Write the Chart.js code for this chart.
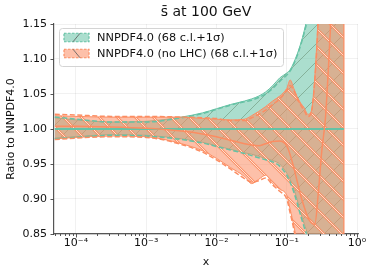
<!DOCTYPE html>
<html>
<head>
<meta charset="utf-8">
<script src="https://cdn.jsdelivr.net/npm/chart.js@4.4.1/dist/chart.umd.min.js"></script>
<style>
  html, body { margin: 0; padding: 0; background: #fff; }
  #chart { display: block; }
</style>
</head>
<body>
<canvas id="chart" width="374" height="275"></canvas>
<script>
// x grid (momentum fraction) shared by every curve
var xs = [5e-5, 1e-4, 3.16e-4, 1e-3, 3.16e-3, 6.3e-3, 0.01, 0.0158, 0.0251, 0.0316,
          0.0398, 0.0501, 0.0631, 0.0794, 0.1, 0.112, 0.126, 0.141, 0.158, 0.178,
          0.2, 0.224, 0.251, 0.282, 0.316, 0.355, 0.398, 0.5, 0.65];

// NNPDF4.0 (reference) - 68 c.l. band and 1 sigma lines
var nnpdfUp68 = [1.016, 1.013, 1.010, 1.011, 1.017, 1.023, 1.029, 1.035, 1.040, 1.043,
                 1.047, 1.053, 1.062, 1.073, 1.080, 1.085, 1.095, 1.107, 1.122, 1.141,
                 1.165, 1.20, 1.26, 1.33, 1.42, 1.5, 1.6, 1.8, 2.0];
var nnpdfLo68 = [0.987, 0.989, 0.992, 0.991, 0.986, 0.981, 0.976, 0.971, 0.966, 0.964,
                 0.961, 0.958, 0.955, 0.950, 0.937, 0.928, 0.914, 0.899, 0.880, 0.864,
                 0.848, 0.82, 0.78, 0.72, 0.65, 0.6, 0.55, 0.45, 0.3];
var nnpdfUp1s = [1.017, 1.014, 1.010, 1.010, 1.016, 1.022, 1.028, 1.034, 1.039, 1.041,
                 1.045, 1.050, 1.058, 1.068, 1.077, 1.083, 1.093, 1.105, 1.120, 1.138,
                 1.16, 1.19, 1.25, 1.32, 1.40, 1.5, 1.6, 1.8, 2.0];
var nnpdfLo1s = [0.986, 0.988, 0.991, 0.990, 0.985, 0.980, 0.975, 0.970, 0.965, 0.962,
                 0.959, 0.956, 0.953, 0.947, 0.934, 0.924, 0.910, 0.894, 0.876, 0.859,
                 0.843, 0.815, 0.77, 0.70, 0.64, 0.58, 0.54, 0.44, 0.3];
var nnpdfCentral = [1, 1, 1, 1, 1, 1, 1, 1, 1, 1, 1, 1, 1, 1, 1, 1, 1, 1, 1, 1,
                    1, 1, 1, 1, 1, 1, 1, 1, 1];

// NNPDF4.0 (no LHC)
var noLhcUp68 = [1.019, 1.018, 1.017, 1.017, 1.017, 1.015, 1.014, 1.013, 1.014, 1.019,
                 1.025, 1.032, 1.040, 1.047, 1.058, 1.070, 1.058, 1.046, 1.037, 1.030,
                 1.021, 1.026, 1.075, 1.17, 1.3, 1.4, 1.5, 1.7, 2.0];
var noLhcLo68 = [0.986, 0.988, 0.990, 0.989, 0.979, 0.969, 0.958, 0.945, 0.932, 0.922,
                 0.928, 0.934, 0.922, 0.914, 0.905, 0.885, 0.862, 0.835, 0.80, 0.76,
                 0.72, 0.68, 0.64, 0.6, 0.55, 0.5, 0.45, 0.4, 0.3];
var noLhcUp1s = [1.021, 1.020, 1.018, 1.018, 1.017, 1.016, 1.015, 1.012, 1.012, 1.016,
                 1.021, 1.027, 1.035, 1.043, 1.055, 1.062, 1.055, 1.044, 1.034, 1.026,
                 1.018, 1.024, 1.07, 1.16, 1.3, 1.4, 1.5, 1.7, 2.0];
var noLhcLo1s = [0.985, 0.987, 0.989, 0.988, 0.978, 0.967, 0.956, 0.943, 0.929, 0.924,
                 0.926, 0.930, 0.920, 0.911, 0.900, 0.880, 0.857, 0.830, 0.795, 0.755,
                 0.715, 0.675, 0.635, 0.6, 0.55, 0.5, 0.45, 0.4, 0.3];
var noLhcCentral = [1.004, 1.004, 1.003, 1.001, 0.997, 0.993, 0.989, 0.984, 0.979, 0.977,
                    0.976, 0.979, 0.982, 0.983, 0.976, 0.963, 0.945, 0.925, 0.905, 0.888,
                    0.874, 0.866, 0.864, 0.91, 0.97, 1.015, 1.10, 1.3, 1.5];

var bandEndX = 0.65;

// axis ticks
var xTicks = [1e-4, 1e-3, 1e-2, 1e-1, 1];
var yTicks = [0.85, 0.90, 0.95, 1.00, 1.05, 1.10, 1.15];

var labels = ['NNPDF4.0 (68 c.l.+1\u03c3)', 'NNPDF4.0 (no LHC) (68 c.l.+1\u03c3)'];

var GREEN = '#66c2a5';
var ORANGE = '#fc8d62';
var GREEN_FILL = 'rgba(102,194,165,0.55)';
var ORANGE_FILL = 'rgba(252,141,98,0.55)';
var FONT = "'DejaVu Sans', sans-serif";

// hatch pattern: fill colour plus diagonal lines (optionally with an outline stroke)
function makeHatch(fill, strokes, dir) {
    var s = 18;
    var c = document.createElement('canvas');
    c.width = s; c.height = s;
    var g = c.getContext('2d');
    g.fillStyle = fill;
    g.fillRect(0, 0, s, s);
    strokes.forEach(function (st) {
        g.strokeStyle = st.color;
        g.lineWidth = st.width;
        g.beginPath();
        if (dir === '/') {
            g.moveTo(-2, s + 2); g.lineTo(s + 2, -2);
            g.moveTo(-2, 2); g.lineTo(2, -2);
            g.moveTo(s - 2, s + 2); g.lineTo(s + 2, s - 2);
        } else {
            g.moveTo(-2, -2); g.lineTo(s + 2, s + 2);
            g.moveTo(-2, s - 2); g.lineTo(2, s + 2);
            g.moveTo(s - 2, -2); g.lineTo(s + 2, 2);
        }
        g.stroke();
    });
    return document.getElementById('chart').getContext('2d').createPattern(c, 'repeat');
}

function pts(arr) {
    return xs.map(function (x, i) { return { x: x, y: arr[i] }; });
}

function sup(n) {
    var map = { '-': '\u207b', '0': '\u2070', '1': '\u00b9', '2': '\u00b2', '3': '\u00b3',
                '4': '\u2074', '5': '\u2075', '6': '\u2076', '7': '\u2077', '8': '\u2078', '9': '\u2079' };
    return String(n).split('').map(function (ch) { return map[ch]; }).join('');
}

var greenHatch = makeHatch(GREEN_FILL, [{ color: 'rgba(100,140,110,0.6)', width: 0.9 }], '/');
var orangeHatch = makeHatch(ORANGE_FILL, [
    { color: 'rgba(252,141,98,0.9)', width: 2.4 },
    { color: 'rgba(255,236,226,0.95)', width: 0.9 }
], '\\');

function lineDs(data, color, width, dash, extra) {
    var ds = {
        data: data,
        borderColor: color,
        borderWidth: width,
        borderDash: dash || [],
        pointRadius: 0,
        fill: false,
        cubicInterpolationMode: 'monotone'
    };
    for (var k in extra) ds[k] = extra[k];
    return ds;
}

var DASH = [5, 2.5];
var datasets = [
    // 0,1 green band
    lineDs(pts(nnpdfUp68), GREEN, 1, null, { fill: { target: 1 }, backgroundColor: greenHatch }),
    lineDs(pts(nnpdfLo68), GREEN, 1),
    // 2,3 orange band
    lineDs(pts(noLhcUp68), ORANGE, 1, null, { fill: { target: 3 }, backgroundColor: orangeHatch }),
    lineDs(pts(noLhcLo68), ORANGE, 1),
    // 1 sigma dashed lines
    lineDs(pts(nnpdfUp1s), GREEN, 1.5, DASH),
    lineDs(pts(nnpdfLo1s), GREEN, 1.5, DASH),
    lineDs(pts(noLhcUp1s), ORANGE, 1.5, DASH),
    lineDs(pts(noLhcLo1s), ORANGE, 1.5, DASH),
    // right edge of the band
    lineDs([{ x: bandEndX, y: 0.5 }, { x: bandEndX, y: 2.0 }], ORANGE, 1.3),
    // central values
    lineDs(pts(nnpdfCentral), GREEN, 2),
    lineDs(pts(noLhcCentral), ORANGE, 1.5)
];
// first dataset at the bottom
datasets.forEach(function (ds, i) { ds.order = datasets.length - i; });

// ticks, titles and legend drawn by hand
var decorPlugin = {
    id: 'decor',
    afterDraw: function (chart) {
        var ctx = chart.ctx;
        var a = chart.chartArea;
        var sx = chart.scales.x, sy = chart.scales.y;
        ctx.save();

        // tick marks
        ctx.strokeStyle = '#444';
        ctx.lineWidth = 0.9;
        ctx.beginPath();
        yTicks.forEach(function (v) {
            var y = Math.round(sy.getPixelForValue(v)) + 0.5;
            ctx.moveTo(a.left - 3.5, y); ctx.lineTo(a.left, y);
        });
        for (var k = -5; k <= 0; k++) {
            for (var m = 1; m <= 9; m++) {
                var v = m * Math.pow(10, k);
                if (v < sx.min || v > sx.max) continue;
                var x = Math.round(sx.getPixelForValue(v)) + 0.5;
                ctx.moveTo(x, a.bottom); ctx.lineTo(x, a.bottom + (m === 1 ? 3.5 : 2));
            }
        }
        ctx.stroke();

        // title and axis titles
        ctx.fillStyle = '#111';
        ctx.textAlign = 'center';
        ctx.textBaseline = 'middle';
        ctx.font = '14px ' + FONT;
        ctx.fillText('s\u0304 at 100 GeV', (a.left + a.right) / 2, 12);
        ctx.font = '11px ' + FONT;
        ctx.fillText('x', (a.left + a.right) / 2, 262);
        ctx.save();
        ctx.translate(11, (a.top + a.bottom) / 2);
        ctx.rotate(-Math.PI / 2);
        ctx.fillText('Ratio to NNPDF4.0', 0, 0);
        ctx.restore();

        // legend
        var bx = 59.5, by = 28.5, bw = 224, bh = 38, r = 3;
        ctx.beginPath();
        ctx.moveTo(bx + r, by);
        ctx.arcTo(bx + bw, by, bx + bw, by + bh, r);
        ctx.arcTo(bx + bw, by + bh, bx, by + bh, r);
        ctx.arcTo(bx, by + bh, bx, by, r);
        ctx.arcTo(bx, by, bx + bw, by, r);
        ctx.closePath();
        ctx.fillStyle = 'rgba(255,255,255,0.85)';
        ctx.fill();
        ctx.strokeStyle = '#d4d4d4';
        ctx.lineWidth = 1;
        ctx.stroke();

        var rows = [
            { fill: GREEN_FILL, color: GREEN, dir: '/', y: 37.5 },
            { fill: ORANGE_FILL, color: ORANGE, dir: '\\', y: 53.5 }
        ];
        rows.forEach(function (row, i) {
            var hx = 64, hw = 25, hh = 8.5, hy = row.y - hh / 2;
            ctx.fillStyle = row.fill;
            ctx.fillRect(hx, hy, hw, hh);
            ctx.setLineDash([2.5, 1.5]);
            ctx.strokeStyle = row.color;
            ctx.lineWidth = 1.2;
            ctx.strokeRect(hx, hy, hw, hh);
            ctx.setLineDash([]);
            ctx.strokeStyle = 'rgba(90,90,90,0.8)';
            ctx.lineWidth = 1;
            ctx.beginPath();
            if (row.dir === '/') {
                ctx.moveTo(hx + 9, hy + hh); ctx.lineTo(hx + 16, hy);
            } else {
                ctx.moveTo(hx + 9, hy); ctx.lineTo(hx + 16, hy + hh);
            }
            ctx.stroke();
            ctx.fillStyle = '#111';
            ctx.textAlign = 'left';
            ctx.font = '11.3px ' + FONT;
            ctx.fillText(labels[i], 97, row.y + 0.5);
        });
        ctx.restore();
    }
};

new Chart(document.getElementById('chart'), {
    type: 'line',
    data: { datasets: datasets },
    options: {
        responsive: false,
        animation: false,
        devicePixelRatio: 1,
        layout: { padding: { left: 0, right: 16, top: 24, bottom: 0 } },
        plugins: {
            legend: { display: false },
            title: { display: false },
            tooltip: { enabled: false }
        },
        scales: {
            x: {
                type: 'logarithmic',
                min: 4.87e-5,
                max: 1.033,
                afterBuildTicks: function (scale) {
                    scale.ticks = xTicks.map(function (v) { return { value: v }; });
                },
                afterFit: function (scale) { scale.height = 41; },
                grid: { color: 'rgba(0,0,0,0.07)', lineWidth: 0.8, drawTicks: false },
                border: { display: true, color: '#555', width: 1.2 },
                ticks: {
                    autoSkip: false,
                    maxRotation: 0,
                    padding: 3,
                    color: '#111',
                    font: { family: FONT, size: 11 },
                    callback: function (value) {
                        return '10' + sup(Math.round(Math.log10(value)));
                    }
                }
            },
            y: {
                type: 'linear',
                min: 0.85,
                max: 1.15,
                afterBuildTicks: function (scale) {
                    scale.ticks = yTicks.map(function (v) { return { value: v }; });
                },
                afterFit: function (scale) { scale.width = 54; },
                grid: { color: 'rgba(0,0,0,0.07)', lineWidth: 0.8, drawTicks: false },
                border: { display: true, color: '#555', width: 1.2 },
                ticks: {
                    padding: 7,
                    color: '#111',
                    font: { family: FONT, size: 11 },
                    callback: function (value) { return Number(value).toFixed(2); }
                }
            }
        }
    },
    plugins: [decorPlugin]
});
</script>
</body>
</html>
